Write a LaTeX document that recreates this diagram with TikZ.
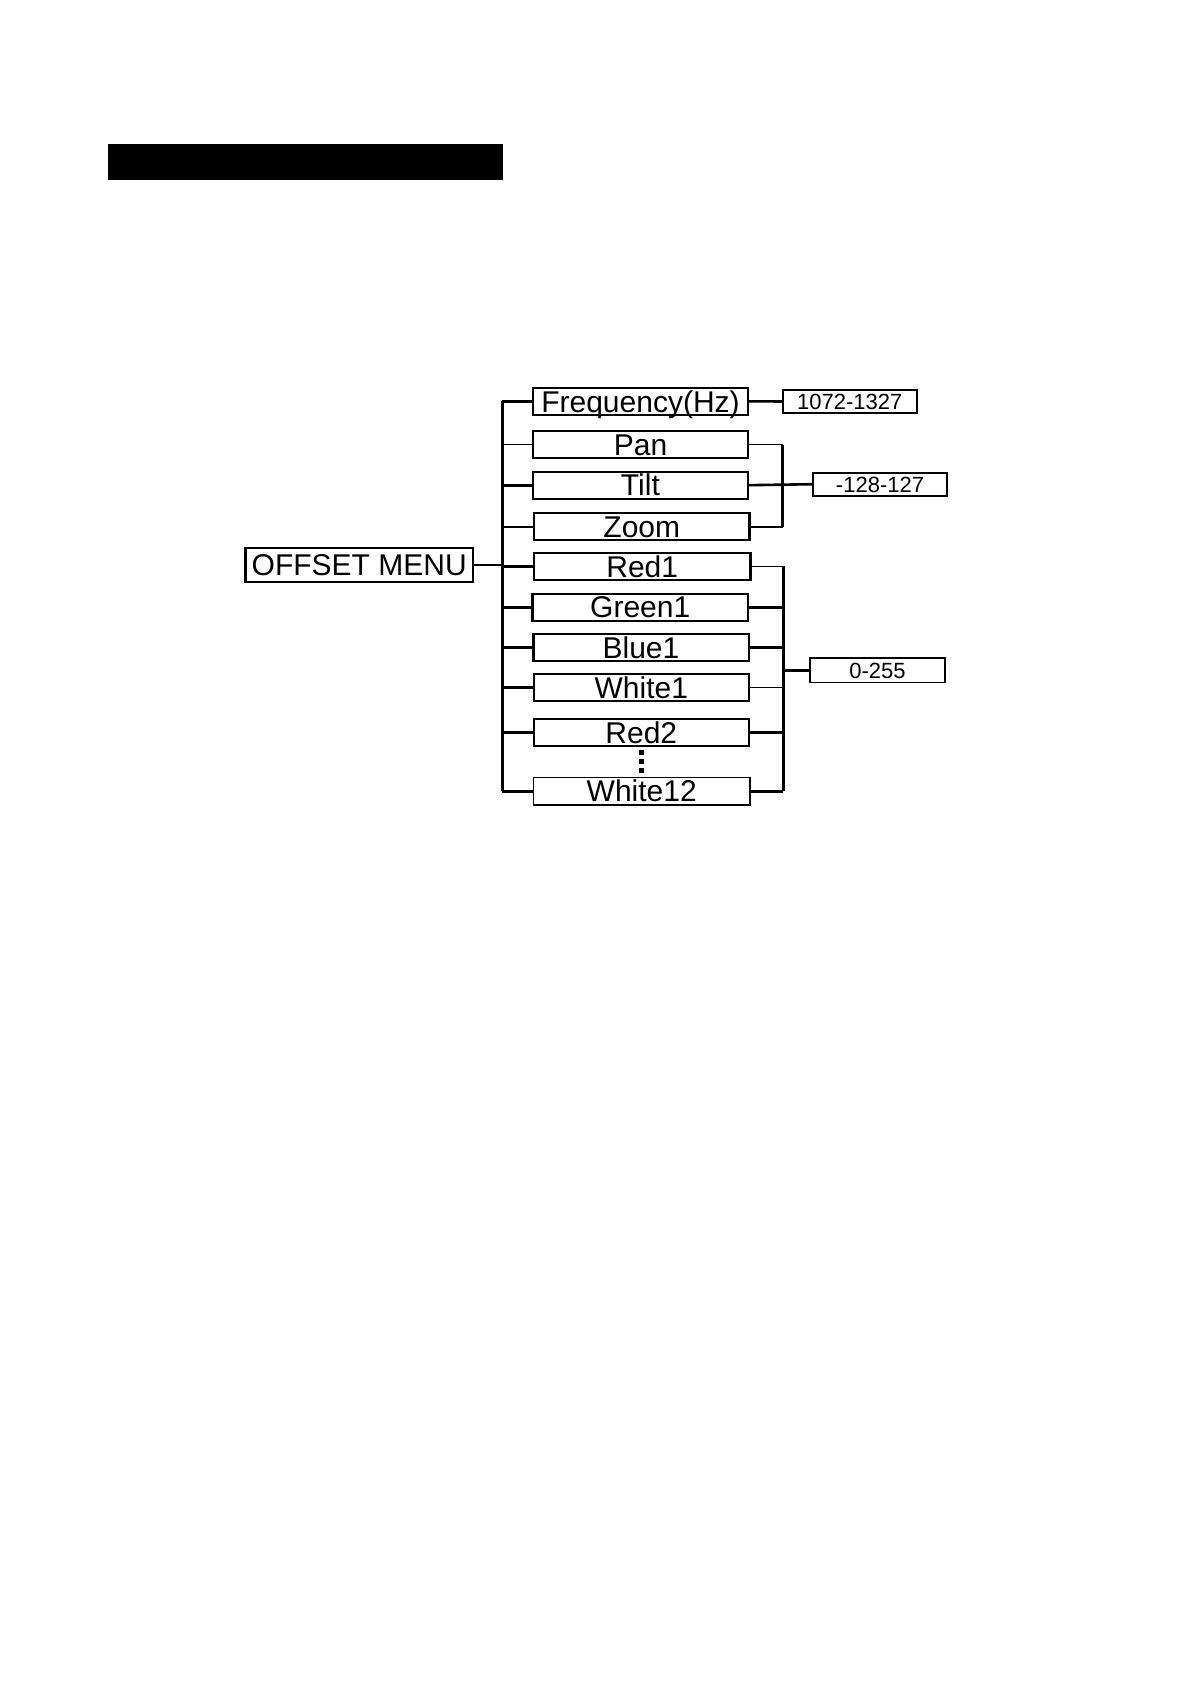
\documentclass[tikz,border=0pt]{standalone}
\usepackage{fontspec}
\setmainfont{Liberation Sans}
\begin{document}
\begin{tikzpicture}[x=1pt,y=-1pt,
  menubox/.style={draw,line width=2.3pt,inner sep=0pt,outer sep=0pt,minimum width=215.3pt,minimum height=27pt,font=\fontsize{30}{30}\selectfont,text height=21.5pt,text depth=0pt},
  valbox/.style={draw,line width=1.8pt,inner sep=0pt,outer sep=0pt,minimum width=134.2pt,minimum height=23.2pt,font=\fontsize{22}{22}\selectfont,text height=15.8pt,text depth=0pt},
  conn/.style={line width=2.6pt},
  thinconn/.style={line width=1pt}]
\useasboundingbox (0,0) rectangle (1192,1685);
% title bar
\fill (108,144) rectangle (502.7,180);
% root
\node[menubox,minimum width=227.4pt,minimum height=34.3pt] (offset) at (359.2,565) {OFFSET MENU};
% menu items
\node[menubox] (freq)   at (640.5,401.3) {Frequency(Hz)};
\node[menubox] (pan)    at (640.5,444.5) {Pan};
\node[menubox] (tilt)   at (640.4,485.2) {Tilt};
\node[menubox] (zoom)   at (641.8,526.8) {Zoom};
\node[menubox,minimum width=216.7pt] (red1) at (642.2,566.4) {Red1};
\node[menubox] (green1) at (640.2,607.2) {Green1};
\node[menubox] (blue1)  at (641.0,647.5) {Blue1};
\node[menubox] (white1) at (641.3,687.5) {White1};
\node[menubox] (red2)   at (641.3,732.5) {Red2};
\node[menubox,line width=1.3pt,minimum width=216.3pt,minimum height=27.7pt] (white12) at (641.7,791.2) {White12};
% values
\node[valbox] (v1) at (849.7,401.5) {1072-1327};
\node[valbox] (v2) at (880.0,484.2) {-128-127};
\node[valbox,line width=1.3pt,minimum width=134.9pt,minimum height=24.7pt] (v3) at (877.5,670.3) {0-255};
% trunk
\coordinate (tx) at (502.3,0);
\draw[conn] (freq.west -| tx) -- (white12.west -| tx);
\draw[conn] (offset.east) -- (offset.east -| tx);
\draw[conn] (freq.west) -- (freq.west -| tx);
\draw[thinconn] (pan.west) -- (pan.west -| tx);
\foreach \n in {tilt,zoom,red1,green1,blue1,white1,red2,white12}
  \draw[conn] (\n.west) -- (\n.west -| tx);
% frequency value
\draw[conn] (freq.east) -- (v1.west);
% pan/tilt/zoom bracket
\coordinate (bx1) at (782.7,0);
\draw[thinconn] (pan.east) -- (pan.east -| bx1);
\draw[conn] (pan.east -| bx1) -- (zoom.east -| bx1);
\draw[conn] (zoom.east) -- (zoom.east -| bx1);
\draw[conn] (tilt.east) -- (v2.west);
% colour bracket
\coordinate (bx2) at (783.3,0);
\draw[conn] (red1.east -| bx2) -- (white12.east -| bx2);
\draw[thinconn] (red1.east) -- (red1.east -| bx2);
\draw[thinconn] (white1.east) -- (white1.east -| bx2);
\foreach \n in {green1,blue1,red2,white12}
  \draw[conn] (\n.east) -- (\n.east -| bx2);
\draw[conn] (v3.west -| bx2) -- (v3.west);
% ellipsis dots
\foreach \yy in {752.5,761.5,770.5}
  \fill (639.2,\yy-2.5) rectangle (644.4,\yy+2.5);
\end{tikzpicture}
\end{document}
